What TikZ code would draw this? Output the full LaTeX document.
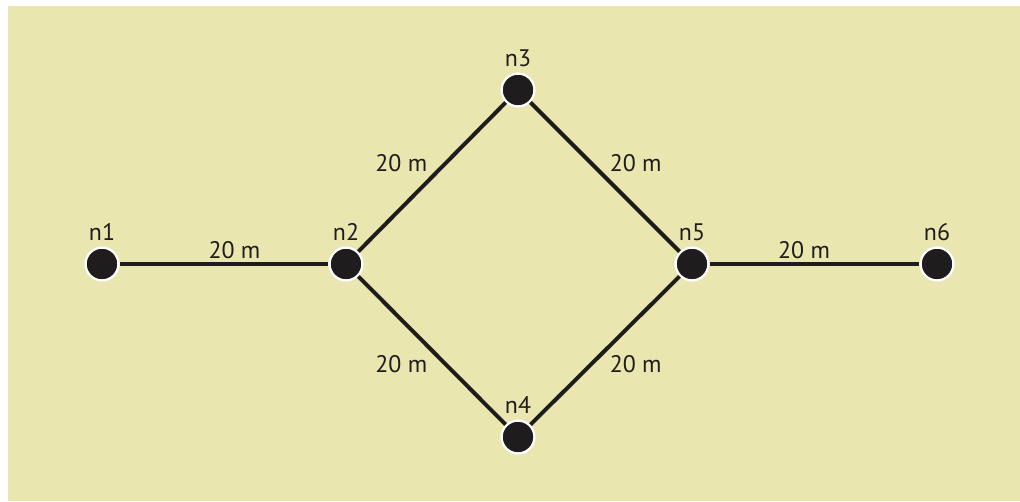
\documentclass[tikz,border=0pt]{standalone}
\usepackage{fontspec}
\setmainfont{PT Sans}
\definecolor{paper}{RGB}{234,230,176}
\definecolor{ink}{RGB}{30,28,28}

\begin{document}
\begin{tikzpicture}[x=0.025cm, y=-0.025cm,
	    dot/.style={circle, fill=ink, draw=white, line width=1.6pt, minimum size=0.82cm, inner sep=0pt},
	    edge/.style={draw=ink, line width=2.8pt},
	    tag/.style={font=\fontsize{17}{20}\selectfont, text=ink, inner sep=2pt},
	    called/.style={label={[tag, label distance=2pt]above:#1}}]
	    \useasboundingbox (0,0) rectangle (1020,501);
	    \fill[paper] (8,6) rectangle (1020,501);
	    % the network nodes
	    \node[dot, called=n1] (n1) at (102,264) {};
	    \node[dot, called=n2] (n2) at (346,264) {};
	    \node[dot, called=n3] (n3) at (518,90) {};
	    \node[dot, called=n4] (n4) at (518,437) {};
	    \node[dot, called=n5] (n5) at (692,264) {};
	    \node[dot, called=n6] (n6) at (937,264) {};
	    % links
	    \draw[edge] (n1) -- node[tag, above, pos=0.55] {20 m} (n2);
	    \draw[edge] (n2) -- node[tag, above left] {20 m} (n3);
	    \draw[edge] (n3) -- node[tag, above right] {20 m} (n5);
	    \draw[edge] (n2) -- node[tag, below left] {20 m} (n4);
	    \draw[edge] (n4) -- node[tag, below right] {20 m} (n5);
	    \draw[edge] (n5) -- node[tag, above, pos=0.45] {20 m} (n6);
	\end{tikzpicture}
\end{document}
